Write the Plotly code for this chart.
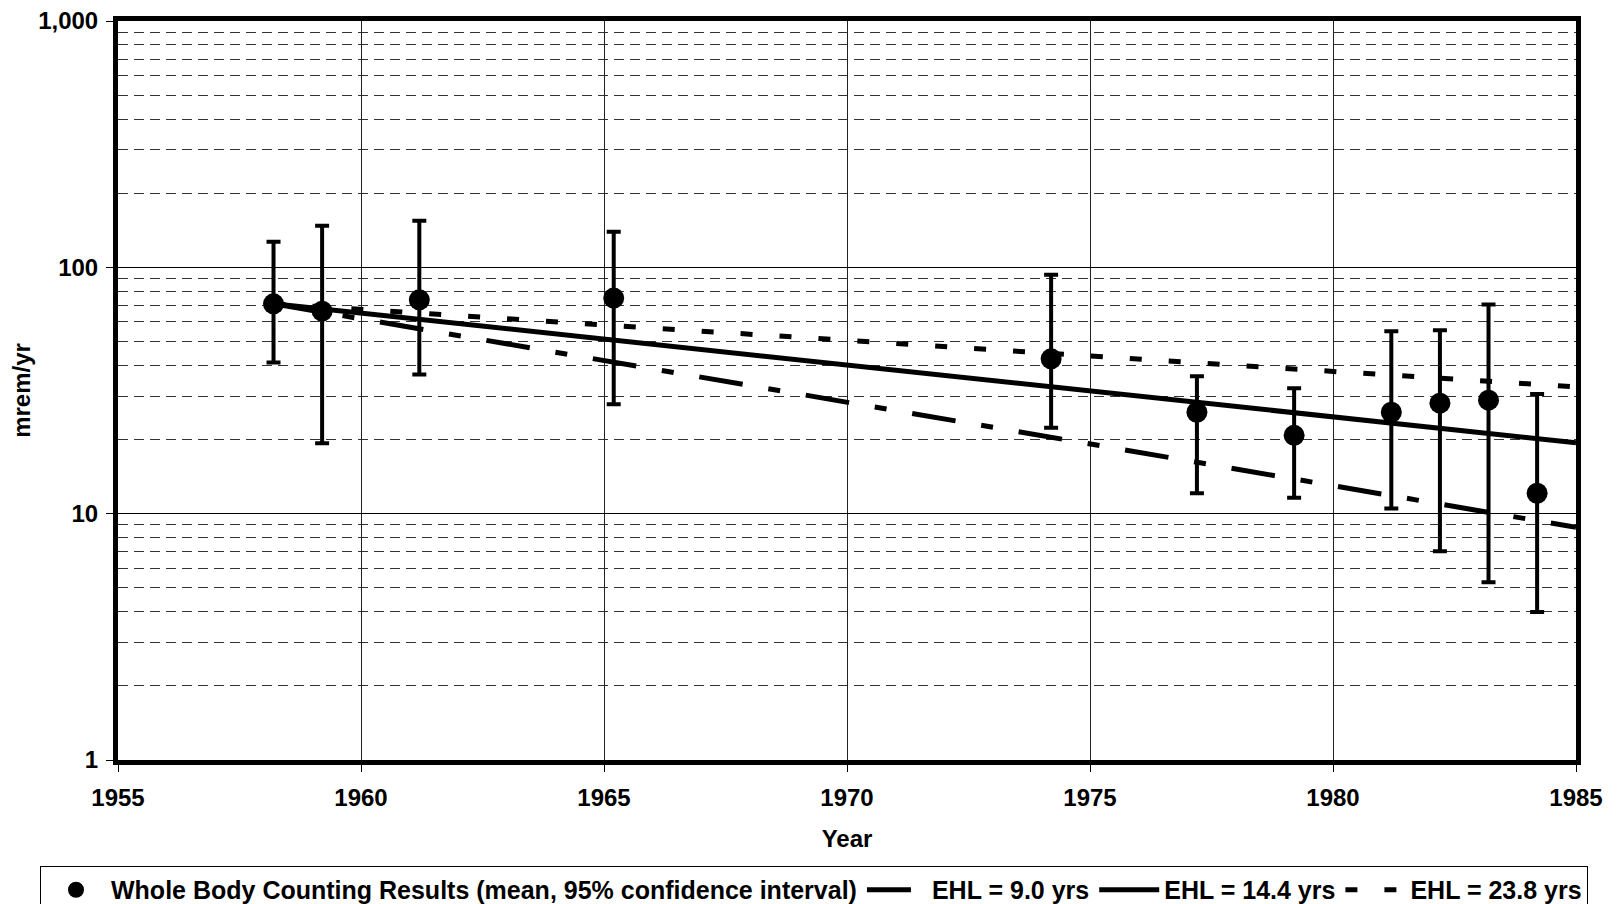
import plotly.graph_objects as go

# ---- data ----
years = [1958.2, 1959.2, 1961.2, 1965.2, 1974.2, 1977.2, 1979.2, 1981.2, 1982.2, 1983.2, 1984.2]
mean_dose = [71.1, 66.4, 73.8, 75.0, 42.5, 25.8, 20.8, 25.8, 28.1, 28.9, 12.1]
upper_ci = [127.0, 147.5, 154.5, 139.4, 93.4, 36.1, 32.3, 55.0, 55.5, 70.7, 30.6]
lower_ci = [41.1, 19.3, 36.7, 27.8, 22.3, 12.1, 11.6, 10.5, 7.04, 5.27, 3.99]

fit_years = [1958.2, 1985.0]
ehl_9_0 = [71.1, 8.8]
ehl_14_4 = [71.1, 19.4]
ehl_23_8 = [71.1, 32.7]

x_ticks = [1955, 1960, 1965, 1970, 1975, 1980, 1985]
y_ticks = [1, 10, 100, 1000]
y_tick_text = ["1", "10", "100", "1,000"]
y_minor = [m * d for d in (1, 10, 100) for m in range(2, 10)]

FONT = "Liberation Sans, Arial, sans-serif"

err_plus = [u - m for u, m in zip(upper_ci, mean_dose)]
err_minus = [m - l for m, l in zip(mean_dose, lower_ci)]

fig = go.Figure()

fig.add_trace(go.Scatter(
    x=years, y=mean_dose, mode="markers",
    name="<b>Whole Body Counting Results (mean, 95% confidence interval)</b>",
    marker=dict(color="black", size=21, symbol="circle"),
    error_y=dict(type="data", symmetric=False, array=err_plus, arrayminus=err_minus,
                 color="black", thickness=4, width=7),
))

fig.add_trace(go.Scatter(
    x=fit_years, y=ehl_9_0, mode="lines", name="<b>EHL = 9.0 yrs</b>",
    line=dict(color="black", width=5, dash="44px,26px,12px,26px"),
))
fig.add_trace(go.Scatter(
    x=fit_years, y=ehl_14_4, mode="lines", name="<b>EHL = 14.4 yrs</b>",
    line=dict(color="black", width=5, dash="solid"),
))
fig.add_trace(go.Scatter(
    x=fit_years, y=ehl_23_8, mode="lines", name="<b>EHL = 23.8 yrs</b>",
    line=dict(color="black", width=5, dash="12px,27px"),
))

# page body has an 8px margin, so the figure is sized/offset to compensate
fig.update_layout(
    width=1613, height=896,
    margin=dict(l=110, r=45, t=13, b=144, autoexpand=False),
    paper_bgcolor="white", plot_bgcolor="white",
    font=dict(family=FONT, size=24, color="black"),
    showlegend=True,
    legend=dict(
        orientation="h", x=-0.0535, y=-0.1434, xanchor="left", yanchor="top",
        bordercolor="black", borderwidth=1, bgcolor="white",
        font=dict(family=FONT, size=25, color="black"),
        itemwidth=60, traceorder="normal",
    ),
    xaxis=dict(
        range=[1955, 1985], tickmode="array", tickvals=x_ticks,
        tickfont=dict(family=FONT, size=24, color="black", weight="bold"),
        ticks="outside", ticklen=7, tickwidth=1, tickcolor="black",
        ticklabelstandoff=5, ticklabeloverflow="allow",
        showgrid=True, gridcolor="#222222", gridwidth=1,
        showline=True, linecolor="black", linewidth=5, mirror=True,
        zeroline=False,
        title=dict(text="<b>Year</b>", font=dict(family=FONT, size=24), standoff=22),
    ),
    yaxis=dict(
        type="log", range=[0, 3], tickmode="array", tickvals=y_ticks, ticktext=y_tick_text,
        tickfont=dict(family=FONT, size=24, color="black", weight="bold"),
        ticks="outside", ticklen=7, tickwidth=1, tickcolor="black",
        ticklabelstandoff=3, ticklabeloverflow="allow",
        showgrid=True, gridcolor="black", gridwidth=1,
        minor=dict(tickmode="array", tickvals=y_minor, showgrid=True,
                   gridcolor="#333333", gridwidth=1, griddash="10px,6px", ticks=""),
        showline=True, linecolor="black", linewidth=5, mirror=True,
        zeroline=False,
        title=dict(text="<b>mrem/yr</b>", font=dict(family=FONT, size=24), standoff=15),
    ),
)

fig.write_html("out.html")
